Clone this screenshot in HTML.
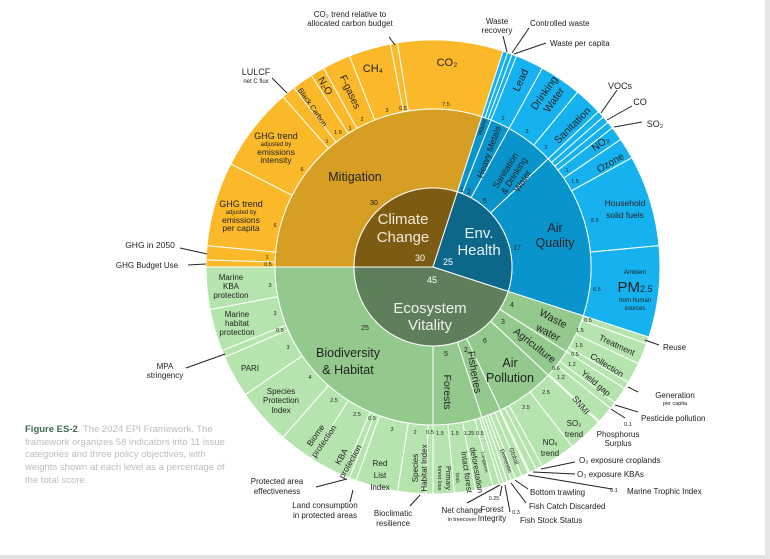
<!DOCTYPE html>
<html><head><meta charset="utf-8"><style>
html,body{margin:0;padding:0;background:#fff;}
svg{display:block;font-family:"Liberation Sans",sans-serif;}
</style></head><body>
<svg id="s" width="770" height="559" viewBox="0 0 770 559" xmlns="http://www.w3.org/2000/svg">
<rect x="0" y="0" width="770" height="559" fill="#fff"/>
<rect x="765" y="0" width="5" height="559" fill="#e6e6e6"/>
<rect x="0" y="555" width="765" height="4" fill="#e0e0e0"/>
<g id="w"></g>
<g stroke="#222" stroke-width="1" fill="none">
<path d="M389 37L395 45"/><path d="M272 78L287 93"/><path d="M180 248L207 254"/><path d="M188 265L206 264"/>
<path d="M503 36L507 52"/><path d="M529 28L512 53"/><path d="M546 43L514 54"/>
<path d="M617 90L601 113"/><path d="M632 106L607 120"/><path d="M642 122L614 127"/>
<path d="M659 345L645 340"/><path d="M638 392L628 387"/><path d="M638 412L615 405"/><path d="M625 418L611 409"/>
<path d="M575 462L541 469"/><path d="M575 474L533 472"/><path d="M612 489L528 475"/><path d="M528 489L515 480"/>
<path d="M526 503L511 483"/><path d="M510 512L505 485"/><path d="M500 496L502 486"/><path d="M467 503L500 485"/>
<path d="M410 506L420 495"/><path d="M350 502L353 490"/><path d="M316 487L347 479"/><path d="M186 368L225 354"/>
</g>
<g fill="#222" font-size="8" text-anchor="middle">
<!-- centre -->
<g fill="#f3ead6" font-size="15"><text x="403" y="224">Climate</text><text x="403" y="242">Change</text></g>
<g fill="#e8f4fa" font-size="15"><text x="479" y="238">Env.</text><text x="479" y="255">Health</text></g>
<g fill="#eef4ea" font-size="15"><text x="430" y="313">Ecosystem</text><text x="430" y="330">Vitality</text></g>
<g fill="#fff" font-size="9"><text x="420" y="261">30</text><text x="448" y="265">25</text><text x="432" y="283">45</text></g>
<!-- issues -->
<g font-size="12.5"><text x="355" y="181">Mitigation</text>
<text x="555" y="232">Air</text><text x="555" y="247">Quality</text>
<text x="348" y="357">Biodiversity</text><text x="348" y="374">&amp; Habitat</text>
<text x="510" y="367">Air</text><text x="510" y="382">Pollution</text></g>
<g font-size="10.5">
<text transform="translate(448,392) rotate(90)" dy="4">Forests</text>
<text transform="translate(475,372) rotate(80)" dy="4">Fisheries</text>
<text transform="translate(535,345) rotate(38)" dy="4">Agriculture</text>
<text transform="translate(553,319) rotate(28)" dy="3">Waste</text>
<text transform="translate(548,333) rotate(28)" dy="3">water</text>
<text transform="translate(508,172) rotate(-58)" dy="0" font-size="9">Sanitation</text>
<text transform="translate(508,172) rotate(-58)" dy="10" font-size="9">&amp; Drinking</text>
<text transform="translate(508,172) rotate(-58)" dy="20" font-size="9">Water</text>
<text transform="translate(489,152) rotate(-70)" dy="3" font-size="9">Heavy Metals</text>
<text transform="translate(482,127) rotate(-70)" dy="2" font-size="6">Waste</text>
</g>
<g font-size="7"><text x="374" y="205">30</text><text x="517" y="250">17</text><text x="485" y="203">5</text><text x="469" y="194">2</text><text x="462" y="192">1</text>
<text x="365" y="330">25</text><text x="446" y="356">5</text><text x="466" y="352">2</text><text x="485" y="343">6</text><text x="503" y="324">3</text><text x="512" y="307">4</text></g>
<!-- climate indicators -->
<text x="447" y="66" font-size="11">CO₂</text><text x="373" y="72" font-size="11">CH₄</text>
<text transform="translate(350,92) rotate(65)" dy="3" font-size="10">F-gases</text>
<text transform="translate(325,86) rotate(60)" dy="3" font-size="10">N₂O</text>
<text transform="translate(313,107) rotate(55)" dy="3" font-size="7.5">Black Carbon</text>
<text x="256" y="75" font-size="9">LULCF</text><text x="256" y="83" font-size="6">net C flux</text>
<text x="276" y="139" font-size="9">GHG trend</text><text x="276" y="146" font-size="6">adjusted by</text><text x="276" y="155" font-size="8.5">emissions</text><text x="276" y="163" font-size="8.5">intensity</text>
<text x="241" y="207" font-size="9">GHG trend</text><text x="241" y="214" font-size="6">adjusted by</text><text x="241" y="223" font-size="8.5">emissions</text><text x="241" y="231" font-size="8.5">per capita</text>
<text x="150" y="248" font-size="8.5">GHG in 2050</text><text x="147" y="268" font-size="8">GHG Budget Use</text>
<text x="350" y="17">CO₂ trend relative to</text><text x="350" y="26">allocated carbon budget</text>
<g font-size="5.5"><text x="446" y="106">7.5</text><text x="387" y="112">3</text><text x="403" y="110">0.5</text><text x="362" y="121">2</text><text x="350" y="130">1</text><text x="338" y="134">1.5</text><text x="327" y="143">1</text><text x="302" y="171">6</text><text x="275" y="227">6</text><text x="267" y="259">1</text><text x="268" y="266">0.5</text></g>
<!-- env indicators -->
<text x="497" y="24">Waste</text><text x="497" y="33">recovery</text><text x="530" y="26" text-anchor="start">Controlled waste</text><text x="550" y="46" text-anchor="start">Waste per capita</text>
<text transform="translate(520,80) rotate(-65)" dy="4" font-size="10.5">Lead</text>
<text transform="translate(547,95) rotate(-55)" dy="0" font-size="10.5">Drinking</text>
<text transform="translate(547,95) rotate(-55)" dy="12" font-size="10.5">Water</text>
<text transform="translate(572,125) rotate(-45)" dy="4" font-size="10.5">Sanitation</text>
<text x="620" y="89" font-size="9">VOCs</text><text x="640" y="105" font-size="9">CO</text><text x="655" y="127" font-size="9">SO₂</text>
<text transform="translate(600,143) rotate(-35)" dy="4" font-size="10">NO₂</text>
<text transform="translate(610,162) rotate(-30)" dy="4" font-size="10">Ozone</text>
<text x="625" y="206" font-size="8.5">Household</text><text x="625" y="218" font-size="8.5">solid fuels</text>
<text x="635" y="274" font-size="6">Ambient</text><text x="635" y="292" font-size="15">PM<tspan font-size="9">2.5</tspan></text><text x="635" y="302" font-size="6">from human</text><text x="635" y="310" font-size="6">sources</text>
<g font-size="5.5"><text x="503" y="120">2</text><text x="527" y="133">3</text><text x="546" y="149">2</text><text x="567" y="172">1</text><text x="575" y="183">1.5</text><text x="595" y="222">6.5</text><text x="597" y="291">6.5</text></g>
<!-- eco indicators -->
<text x="663" y="350" text-anchor="start">Reuse</text>
<text transform="translate(617,345) rotate(25)" dy="3" font-size="8.5">Treatment</text>
<text transform="translate(607,365) rotate(32)" dy="3" font-size="8.5">Collection</text>
<text transform="translate(596,383) rotate(40)" dy="3" font-size="8.5">Yield gap</text>
<text transform="translate(581,405) rotate(50)" dy="3" font-size="8.5">SNMI</text>
<text x="675" y="398">Generation</text><text x="675" y="405" font-size="5.5">per capita</text>
<text x="641" y="421" text-anchor="start">Pesticide pollution</text>
<text x="618" y="437">Phosphorus</text><text x="618" y="446">Surplus</text>
<text x="574" y="426">SO₂</text><text x="574" y="437">trend</text><text x="550" y="445">NOₓ</text><text x="550" y="456">trend</text>
<text x="579" y="463" text-anchor="start">O₃ exposure croplands</text><text x="577" y="477" text-anchor="start">O₃ exposure KBAs</text>
<text x="627" y="494" text-anchor="start">Marine Trophic Index</text>
<text x="530" y="495" text-anchor="start">Bottom trawling</text><text x="529" y="509" text-anchor="start">Fish Catch Discarded</text><text x="520" y="523" text-anchor="start">Fish Stock Status</text>
<text transform="translate(514,456) rotate(70)" dy="2" font-size="6">Global</text>
<text transform="translate(506,461) rotate(70)" dy="2" font-size="6">Domestic</text>
<text x="492" y="512">Forest</text><text x="492" y="521">Integrity</text>
<text x="462" y="513">Net change</text><text x="462" y="521" font-size="5.5">in treecover</text>
<text transform="translate(485,462) rotate(80)" dy="2" font-size="5">Longterm</text>
<text transform="translate(477,470) rotate(80)" dy="3" font-size="8">deforestation</text>
<text transform="translate(467,472) rotate(82)" dy="3" font-size="8">Intact forest</text>
<text transform="translate(458,478) rotate(85)" dy="2" font-size="5.5">loss</text>
<text transform="translate(448,478) rotate(90)" dy="2" font-size="7">Primary</text>
<text transform="translate(440,478) rotate(90)" dy="2" font-size="5.5">forest loss</text>
<text x="393" y="516">Bioclimatic</text><text x="393" y="526">resilience</text>
<text transform="translate(418,468) rotate(-90)" dy="0" font-size="8">Species</text>
<text transform="translate(418,468) rotate(-90)" dy="9" font-size="8">Habitat Index</text>
<text x="380" y="466">Red</text><text x="380" y="478">List</text><text x="380" y="490">Index</text>
<text x="325" y="508">Land consumption</text><text x="325" y="518">in protected areas</text>
<text x="277" y="484">Protected area</text><text x="277" y="494">effectiveness</text>
<text transform="translate(344,458) rotate(-60)" dy="0" font-size="8.5">KBA</text>
<text transform="translate(344,458) rotate(-60)" dy="10" font-size="8.5">protection</text>
<text transform="translate(318,437) rotate(-55)" dy="0" font-size="8.5">Biome</text>
<text transform="translate(318,437) rotate(-55)" dy="10" font-size="8.5">protection</text>
<text x="281" y="394">Species</text><text x="281" y="403">Protection</text><text x="281" y="413">Index</text>
<text x="250" y="371">PARI</text>
<text x="165" y="369">MPA</text><text x="165" y="378">stringency</text>
<text x="237" y="317">Marine</text><text x="237" y="326">habitat</text><text x="237" y="335">protection</text>
<text x="231" y="280">Marine</text><text x="231" y="289">KBA</text><text x="231" y="298">protection</text>
<g font-size="5.5"><text x="580" y="332">1.5</text><text x="588" y="322">0.5</text><text x="579" y="347">1.5</text><text x="572" y="366">1.2</text><text x="575" y="356">0.5</text><text x="561" y="379">1.2</text><text x="556" y="370">0.6</text><text x="628" y="426">0.1</text><text x="546" y="394">2.5</text><text x="526" y="409">2.5</text><text x="614" y="492">0.1</text><text x="516" y="514">0.3</text><text x="494" y="500">0.25</text>
<text x="440" y="435">1.5</text><text x="455" y="435">1.5</text><text x="469" y="435">1.25</text><text x="480" y="435">0.5</text><text x="415" y="434">2</text><text x="430" y="434">0.5</text><text x="392" y="431">3</text><text x="357" y="416">2.5</text><text x="372" y="420">0.5</text><text x="334" y="402">2.5</text><text x="310" y="379">4</text><text x="288" y="349">3</text><text x="275" y="315">3</text><text x="280" y="332">0.5</text><text x="270" y="287">3</text></g>
</g>
<g font-size="9.5" fill="#bdbdbd">
<text x="25" y="432"><tspan fill="#3e6b50" font-weight="bold">Figure ES-2</tspan>. The 2024 EPI Framework. The</text>
<text x="25" y="445">framework organizes 58 indicators into 11 issue</text>
<text x="25" y="457">categories and three policy objectives, with</text>
<text x="25" y="470">weights shown at each level as a percentage of</text>
<text x="25" y="483">the total score.</text>
</g>
</svg>
<script>
(function(){
var cx=433,cy=267,R0=79,R1=158,R2=227,g=document.getElementById('w'),NS='http://www.w3.org/2000/svg';
function P(r,a){a=a*Math.PI/180;return [cx+r*Math.sin(a),cy-r*Math.cos(a)];}
function wedge(a0,a1,r0,r1,f){var p1=P(r1,a0),p2=P(r1,a1),p3=P(r0,a1),p4=P(r0,a0),l=(a1-a0)>180?1:0;
var d='M'+p1+'A'+r1+','+r1+' 0 '+l+' 1 '+p2+'L'+p3+(r0>0?'A'+r0+','+r0+' 0 '+l+' 0 '+p4:'')+'Z';
var e=document.createElementNS(NS,'path');e.setAttribute('d',d);e.setAttribute('fill',f);e.setAttribute('stroke','#fff');e.setAttribute('stroke-width','1');g.appendChild(e);}
function ring(start,ws,r0,r1,f){var a=start;ws.forEach(function(w){wedge(a,a+w*3.6,r0,r1,f);a+=w*3.6;});}
ring(-90,[.5,1,6,6,1,1.5,1,2,3,.5,7.5],R1,R2,'#fbb829');
ring(-90,[30],R0,R1,'#d69e22');
wedge(-90,18,0,R0,'#7d5b12');
ring(18,[1/3,1/3,1/3,2,3,2,.5,.5,.5,1,1.5,6.5,6.5],R1,R2,'#16b2ef');
ring(18,[1,2,5,17],R0,R1,'#0a94cc');
wedge(18,108,0,R0,'#0d6789');
ring(108,[.5,1.5,1.5,.5, 1.2,.5,1.2,.1, 2.5,2.5,.5,.5, .1,.5,.5,.3,.3,.3, .25,.5,1.25,1.5,1.5, .5,2,3,.5,.5,2.5,2.5,4,3,.5,3,3],R1,R2,'#b6e4ae');
ring(108,[4,3,6,2,5,25],R0,R1,'#94c98d');
wedge(108,270,0,R0,'#5f7f5c');
})();
</script>
</body></html>
